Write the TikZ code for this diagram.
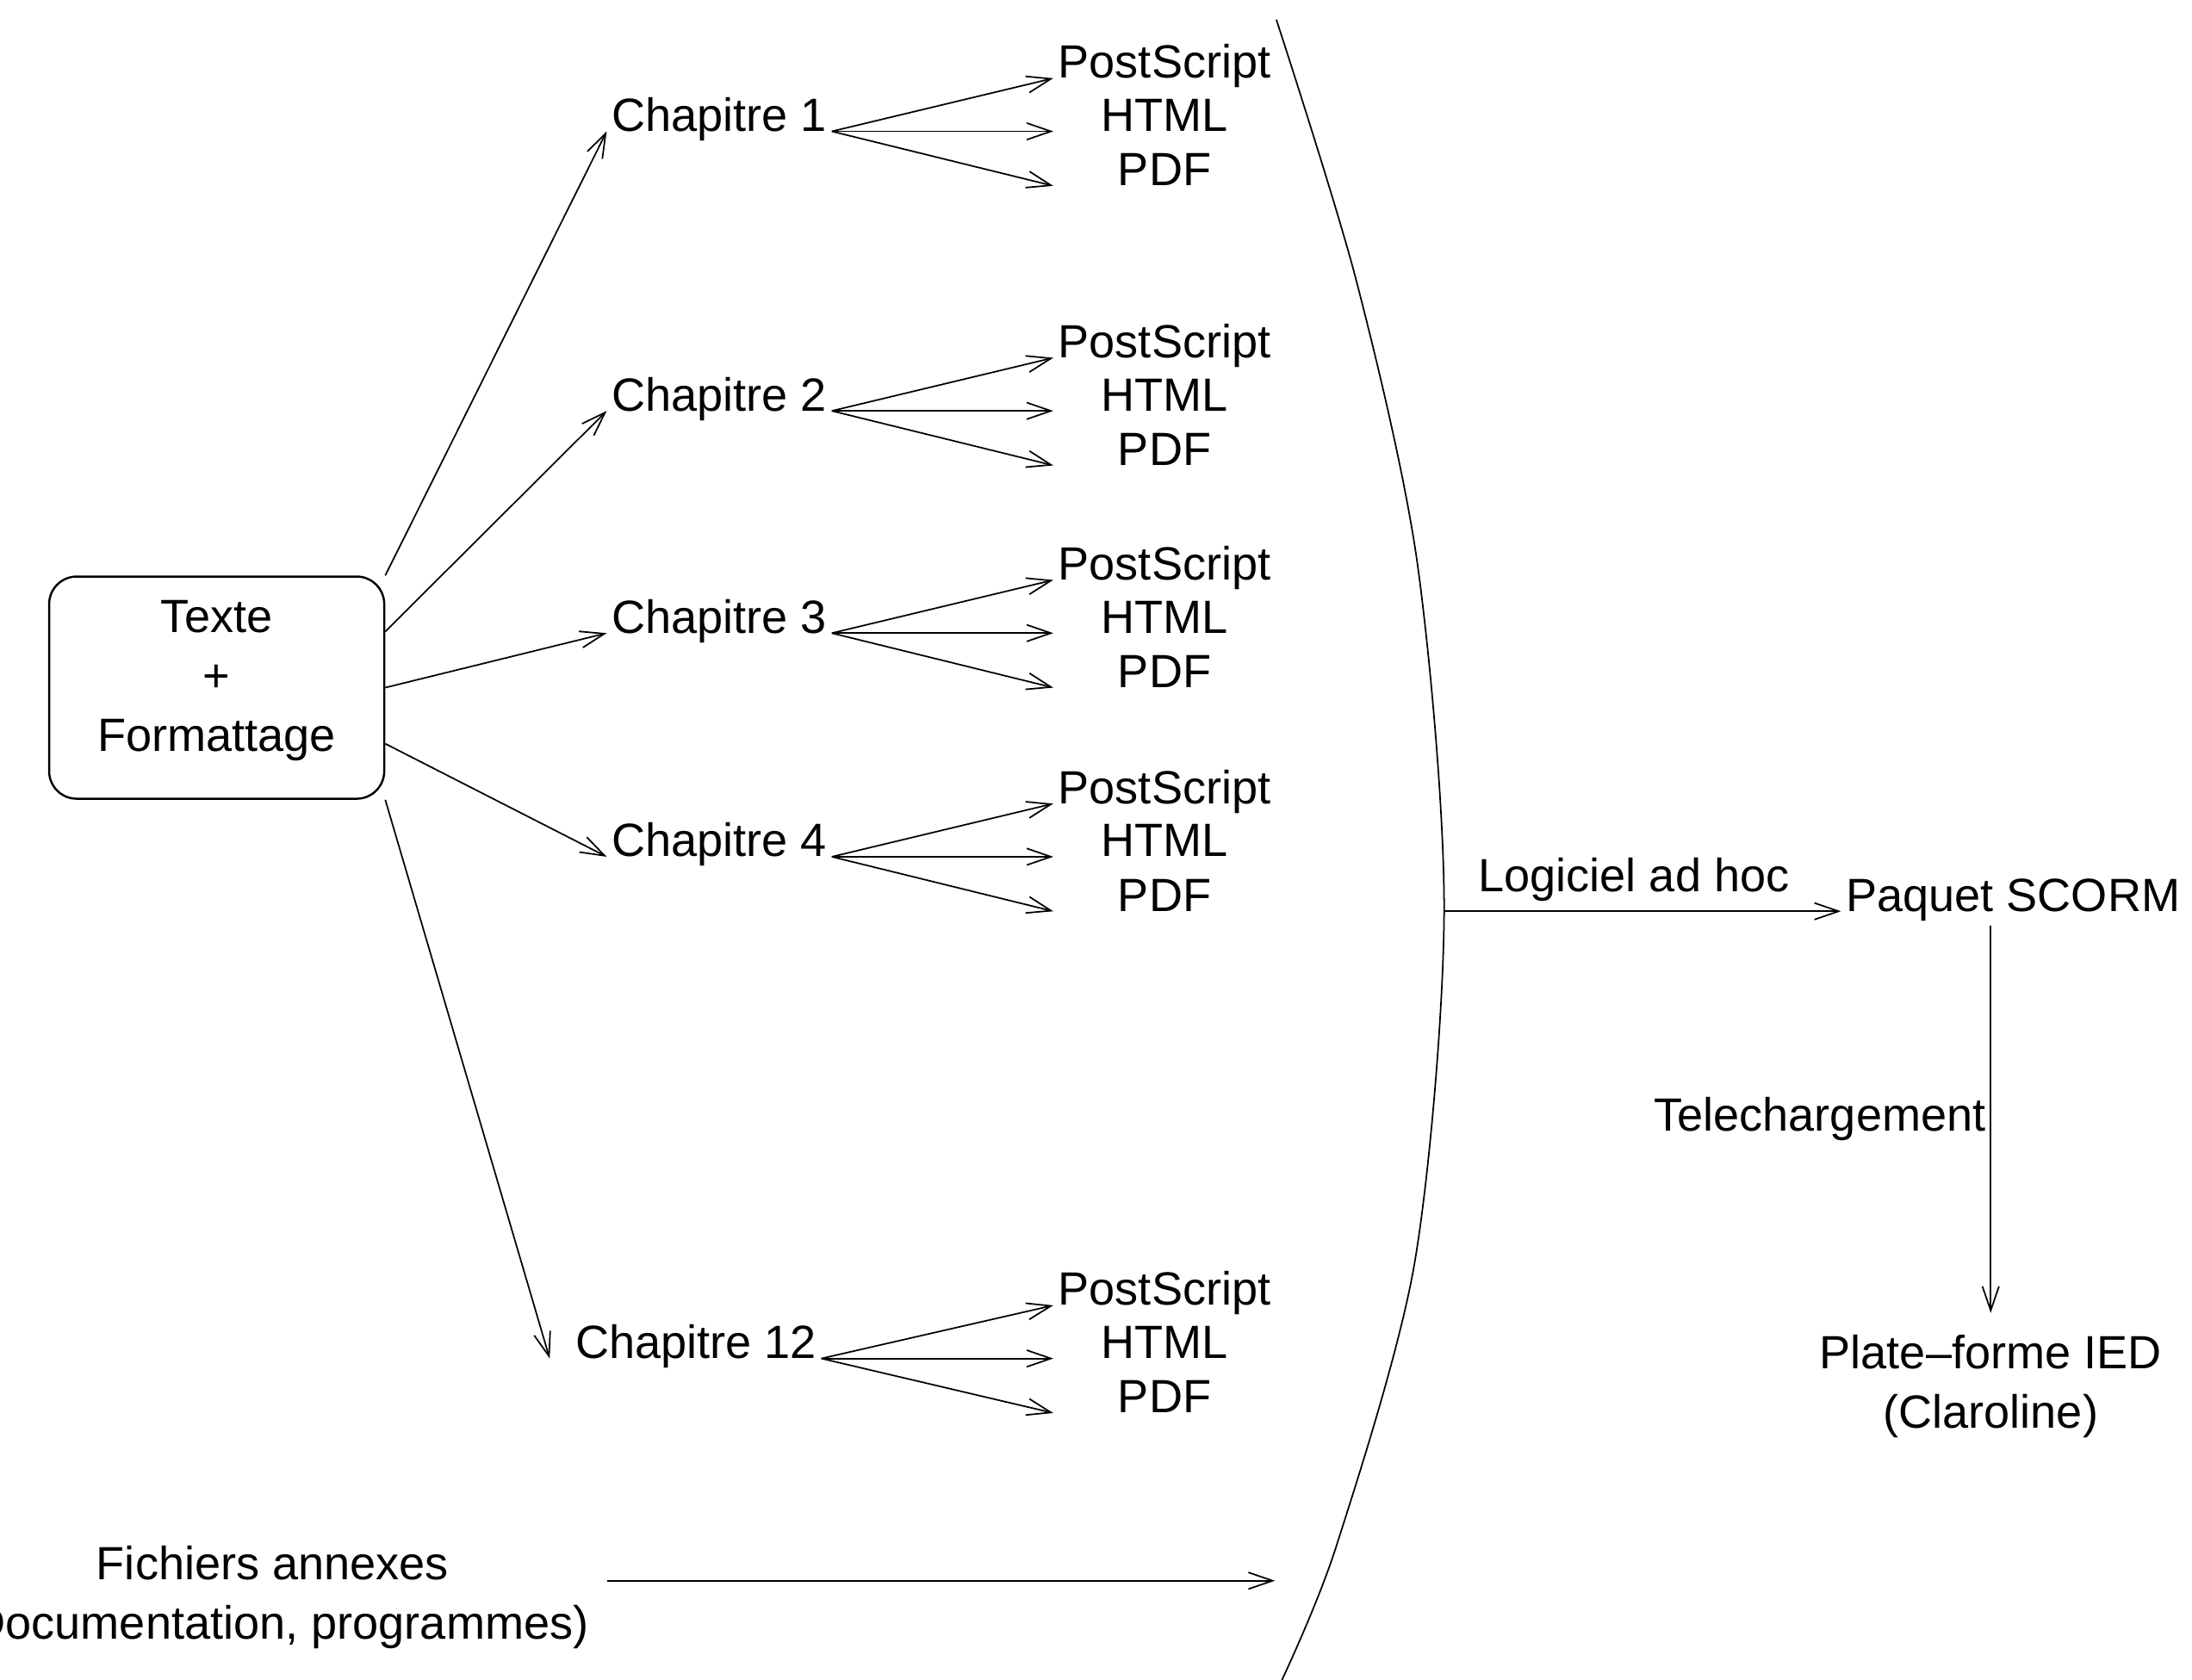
\documentclass[tikz,border=0pt]{standalone}
\usepackage{fontspec}
\setmainfont{Liberation Sans}
\usetikzlibrary{arrows.meta,calc}

\begin{document}
\begin{tikzpicture}[x=0.1623mm,y=-0.1623mm, line width=0.5pt,
    >={Straight Barb[length=8pt,width=5.5pt]},
    every node/.style={font=\fontsize{15.4}{19.6}\selectfont, inner sep=1.4pt},
    chap/.style={anchor=base west},
    fmt/.style={anchor=base}]
  \useasboundingbox (0,0) rectangle (1568,1202);

  % source
  \node[draw, line width=0.7pt, rounded corners=3.2mm, minimum width=38.9mm,
        minimum height=25.8mm] (src) at (155,492)
        {\raisebox{0.8mm}[\height][\depth]{\parbox{30mm}{\centering Texte\\+\\Formattage}}};

  % chapitres et formats
  \foreach \n/\x/\y in {1/434/94, 2/434/294, 3/434/453, 4/434/613, 12/408/972} {
    \node[chap] (ch\n) at (\x,\y) {Chapitre \n};
    \node[fmt] (ps\n) at (833,\y-38) {PostScript};
    \node[fmt] (ht\n) at (833,\y) {HTML};
    \node[fmt] (pd\n) at (833,\y+39) {PDF};
    \draw[->] (ch\n.base east) -- (ps\n.base west);
    \draw[->] (ch\n.base east) -- (ps\n.base west |- ht\n.base);
    \draw[->] (ch\n.base east) -- (ps\n.base west |- pd\n.base);
  }

  \foreach \n/\k in {1/0, 2/0.25, 3/0.5, 4/0.75}
    \draw[->] ($(src.north east)!\k!(src.south east)$) -- (ch\n.base west);
  \draw[->] (src.south east) -- ([xshift=-2.4mm]ch12.base west);

  % grand arc
  \draw plot[smooth] coordinates {(913,14) (970,200) (1014,404) (1033,652)
    (1012,903) (956,1106) (917,1202)};
  \coordinate (arc) at (1033,652);

  % SCORM
  \node[anchor=base] (scorm) at (1440,652) {Paquet SCORM};
  \draw[->] (arc) -- (scorm.base west)
    node[midway, above, xshift=-1mm, yshift=0.6mm] {Logiciel ad hoc};

  \node[align=center] (ied) at (1424,992) {Plate--forme IED\\(Claroline)};
  \draw[->] (scorm.south -| ied.north) -- ([yshift=2mm]ied.north)
    node[midway, left] {Telechargement};

  % annexes
  \node[align=center] (annex) at (195,1143) {Fichiers annexes\\(Documentation, programmes)};
  \coordinate (annexend) at (912,1131);
  \draw[->] ([xshift=1.6mm]annex.east |- annexend) -- (annexend);
\end{tikzpicture}
\end{document}
